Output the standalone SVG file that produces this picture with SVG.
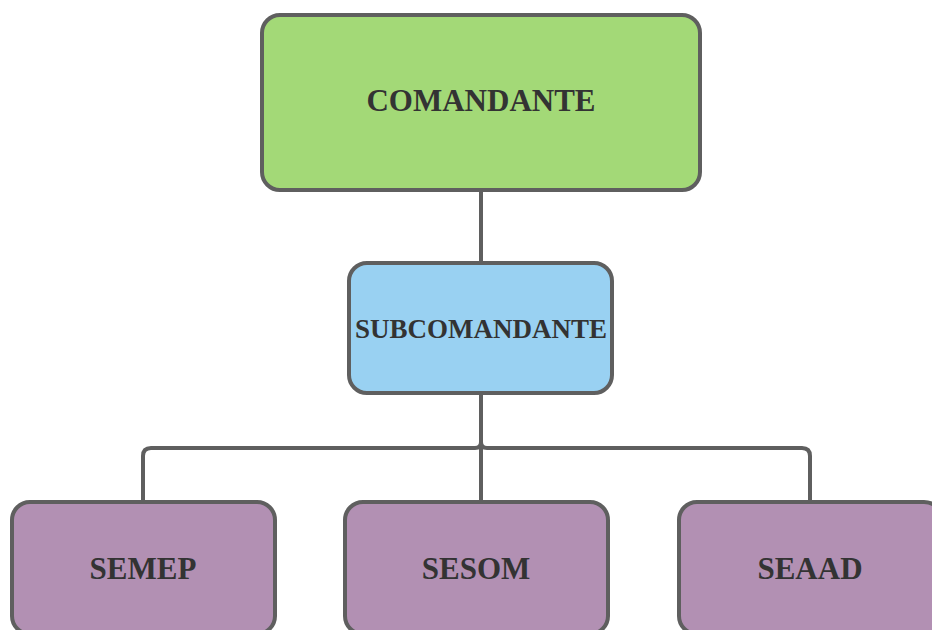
<svg xmlns="http://www.w3.org/2000/svg" width="932" height="630" viewBox="0 0 932 630">
<style>
.box{stroke:#5f5f5f;stroke-width:4}
.lbl{font-family:"Liberation Serif","DejaVu Serif",serif;font-weight:bold;fill:#333333;text-anchor:middle}
.con{fill:none;stroke:#5f5f5f;stroke-width:4}
</style>
<rect width="932" height="630" fill="#ffffff"/>
<g id="connectors">
<path class="con" d="M481,190 V263"/>
<path class="con" d="M481,393 V502"/>
<path class="con" d="M481,442 Q481,448 475,448 H151 Q143,448 143,456 V502"/>
<path class="con" d="M481,442 Q481,448 487,448 H802 Q810,448 810,456 V502"/>
</g>
<g id="comandante">
<rect class="box" x="262" y="15" width="438" height="175" rx="18" fill="#a3d977"/>
<text class="lbl" x="481" y="111" font-size="31">COMANDANTE</text>
</g>
<g id="subcomandante">
<rect class="box" x="349" y="263" width="263" height="130" rx="18" fill="#99d1f2"/>
<text class="lbl" x="481" y="338" font-size="27">SUBCOMANDANTE</text>
</g>
<g id="semep">
<rect class="box" x="12" y="502" width="263" height="132" rx="18" fill="#b290b3"/>
<text class="lbl" x="143" y="579" font-size="31">SEMEP</text>
</g>
<g id="sesom">
<rect class="box" x="345" y="502" width="263" height="132" rx="18" fill="#b290b3"/>
<text class="lbl" x="476" y="579" font-size="31">SESOM</text>
</g>
<g id="seaad">
<rect class="box" x="679" y="502" width="263" height="132" rx="18" fill="#b290b3"/>
<text class="lbl" x="810" y="579" font-size="31">SEAAD</text>
</g>
</svg>
